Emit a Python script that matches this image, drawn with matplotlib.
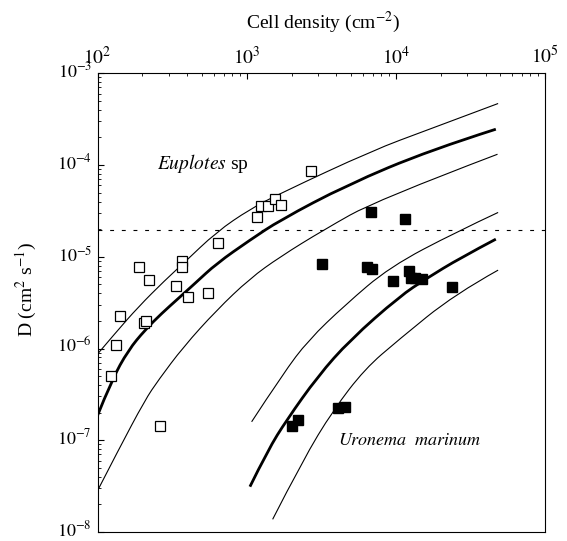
import numpy as np
import matplotlib
matplotlib.use('Agg')
import matplotlib.pyplot as plt
from matplotlib.ticker import LogLocator, NullFormatter
from matplotlib.path import Path
from matplotlib.patches import PathPatch
from matplotlib.transforms import ScaledTranslation

plt.rcParams['font.family'] = ['Liberation Serif', 'DejaVu Serif']
plt.rcParams['mathtext.fontset'] = 'stix'

# 白抜き四角 (Euplotes sp)
euplotes_x = [123, 134, 142, 191, 222, 206, 211, 334, 370, 370, 406, 550, 645,
              1180, 1240, 1380, 1560, 1700, 2690, 264]
euplotes_y = [5.0e-7, 1.1e-6, 2.27e-6, 7.76e-6, 5.56e-6, 1.92e-6, 2.0e-6, 4.78e-6,
              8.96e-6, 7.64e-6, 3.66e-6, 4.04e-6, 1.41e-5, 2.68e-5, 3.58e-5,
              3.58e-5, 4.24e-5, 3.65e-5, 8.5e-5, 1.44e-7]

# 黒四角 (Uronema marinum)
uronema_x = [3200, 6780, 11560, 6430, 6880, 9560, 12300, 12570, 13430, 14890,
             23660, 2000, 2220, 4110, 4560]
uronema_y = [8.3e-6, 3.08e-5, 2.55e-5, 7.64e-6, 7.38e-6, 5.42e-6, 7.02e-6, 5.8e-6,
             5.8e-6, 5.66e-6, 4.7e-6, 1.43e-7, 1.66e-7, 2.23e-7, 2.32e-7]

# 曲線
eup_hi_x = [100, 131, 188, 284, 376, 629, 1052, 1672, 7055, 16085, 48570]
eup_hi_y = [8.7e-7, 1.46e-6, 2.85e-6, 5.56e-6, 8.45e-6, 1.87e-5, 3.3e-5, 4.89e-5, 1.45e-4, 2.39e-4, 4.68e-4]
eup_mid_x = [100, 124.5, 161, 208, 269, 348, 450, 629, 1052, 1672, 4680, 16930, 46880]
eup_mid_y = [1.86e-7, 4.53e-7, 9.61e-7, 1.59e-6, 2.41e-6, 3.51e-6, 5.12e-6, 8.45e-6, 1.52e-5,
             2.5e-5, 6.03e-5, 1.45e-4, 2.455e-4]
eup_lo_x = [100, 138, 208, 256, 376, 629, 1052, 1672, 3262, 7434, 48120]
eup_lo_y = [2.82e-8, 7.82e-8, 2.74e-7, 4.53e-7, 1.04e-6, 2.62e-6, 5.8e-6, 9.97e-6, 1.95e-5, 4.14e-5, 1.31e-4]

uro_hi_x = [1080, 1760, 2590, 4560, 9130, 25560, 48570]
uro_hi_y = [1.59e-7, 5.36e-7, 1.23e-6, 2.97e-6, 7.76e-6, 1.87e-5, 3.04e-5]
uro_mid_x = [1052, 1389, 1854, 3006, 4924, 10650, 16085, 26890, 46880]
uro_mid_y = [3.12e-8, 7.82e-8, 1.66e-7, 5.0e-7, 1.234e-6, 3.72e-6, 5.8e-6, 9.65e-6, 1.555e-5]
uro_lo_x = [1494, 2384, 3805, 6208, 10380, 24900, 48570]
uro_lo_y = [1.375e-8, 6.09e-8, 2.13e-7, 6.0e-7, 1.234e-6, 3.91e-6, 7.15e-6]

d_limit = 1.95e-5   # 破線

xticks = [1e2, 1e3, 1e4, 1e5]
xtick_labels = ['$10^{2}$', '$10^{3}$', '$10^{4}$', '$10^{5}$']
yticks = [1e-8, 1e-7, 1e-6, 1e-5, 1e-4, 1e-3]
ytick_labels = ['$10^{-8}$', '$10^{-7}$', '$10^{-6}$', '$10^{-5}$', '$10^{-4}$', '$10^{-3}$']


def smooth_curve(ax, xs, ys, lw):
    # 読み取った点を制御点にして滑らかに描く (log空間の中点でつなぐ)
    lx = np.log10(xs)
    ly = np.log10(ys)
    n = len(xs)
    verts = [(xs[0], ys[0])]
    codes = [Path.MOVETO]
    for i in range(1, n - 1):
        if i == n - 2:
            end = (xs[-1], ys[-1])
        else:
            end = (10 ** ((lx[i] + lx[i + 1]) / 2), 10 ** ((ly[i] + ly[i + 1]) / 2))
        verts += [(xs[i], ys[i]), end]
        codes += [Path.CURVE3, Path.CURVE3]
    ax.add_patch(PathPatch(Path(verts, codes), fill=False, ec='k', lw=lw, capstyle='butt'))


fig = plt.figure(figsize=(5.67, 5.41), dpi=100)
ax = fig.add_axes([0.172, 0.0166, 0.789, 0.848])
ax.set_xscale('log')
ax.set_yscale('log')
ax.set_xlim(1e2, 1e5)
ax.set_ylim(1e-8, 1e-3)

# 曲線
smooth_curve(ax, eup_hi_x, eup_hi_y, 0.8)
smooth_curve(ax, eup_mid_x, eup_mid_y, 2.0)
smooth_curve(ax, eup_lo_x, eup_lo_y, 0.8)
smooth_curve(ax, uro_hi_x, uro_hi_y, 0.8)
smooth_curve(ax, uro_mid_x, uro_mid_y, 2.0)
smooth_curve(ax, uro_lo_x, uro_lo_y, 0.8)

ax.axhline(d_limit, color='k', lw=0.8, dashes=(3.5, 7))

# データ点
ax.plot(euplotes_x, euplotes_y, 's', ms=7, mfc='white', mec='k', mew=0.9, ls='none')
ax.plot(uronema_x, uronema_y, 's', ms=6.5, mfc='k', mec='k', ls='none')

# 目盛り
ax.set_xticks(xticks)
ax.set_xticklabels(xtick_labels, fontsize=14)
ax.xaxis.set_minor_locator(LogLocator(base=10, subs=np.arange(2, 10)))
ax.xaxis.set_minor_formatter(NullFormatter())
ax.set_yticks(yticks)
ax.set_yticklabels(ytick_labels, fontsize=13)
ax.yaxis.set_minor_locator(LogLocator(base=10, subs=np.arange(2, 10)))
ax.yaxis.set_minor_formatter(NullFormatter())
ax.tick_params(axis='x', which='both', direction='in', top=True, bottom=False,
               labeltop=True, labelbottom=False)
ax.tick_params(axis='y', which='both', direction='in', left=True, right=False)
ax.tick_params(which='major', length=4, width=0.8, pad=4)
ax.tick_params(which='minor', length=2.5, width=0.6)
for s in ax.spines.values():
    s.set_linewidth(0.8)

# y目盛りラベルを少し上へ (数字の中心を目盛りに合わせる)
up = ScaledTranslation(0, 2.5 / 72, fig.dpi_scale_trans)
for lab in ax.get_yticklabels():
    lab.set_transform(lab.get_transform() + up)

# ラベル
fig.text(0.570, 0.959, 'Cell density (cm$^{-2}$)', fontsize=14, ha='center', va='center')
fig.text(0.047, 0.464, 'D (cm$^{2}$ s$^{-1}$)', fontsize=14, ha='center', va='center', rotation=90)
ax.text(249, 1.05e-4, r'$\mathit{Euplotes}$ sp', fontsize=14, ha='left', va='center')
ax.text(4090, 1.0e-7, r'$\mathit{Uronema\ \ marinum}$', fontsize=13, ha='left', va='center')

plt.savefig('out.png', dpi=100)
